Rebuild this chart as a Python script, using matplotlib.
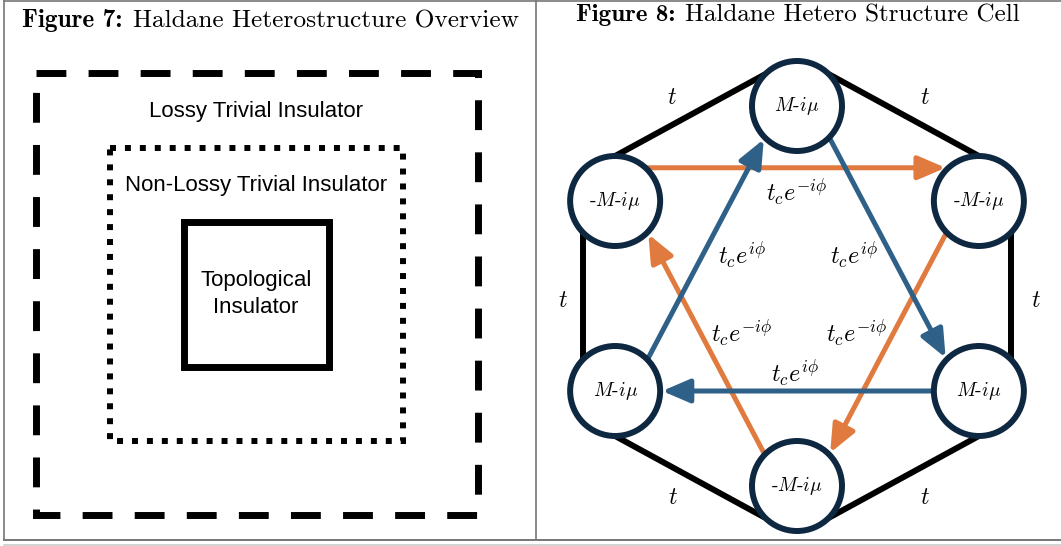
import numpy as np
import matplotlib
matplotlib.use("Agg")
import matplotlib.pyplot as plt
from matplotlib.patches import Circle, FancyArrowPatch
from matplotlib.lines import Line2D

plt.rcParams['mathtext.fontset'] = 'cm'

# ---------------- data ----------------
panel_numbers = ["Figure 7:", "Figure 8:"]
panel_titles = ["Haldane Heterostructure Overview", "Haldane Hetero Structure Cell"]
region_labels = ["Lossy Trivial Insulator", "Non-Lossy Trivial Insulator", "Topological\nInsulator"]
region_styles = ["dashed", "dotted", "solid"]

# hexagon sites, clockwise from top
site_labels = [r"$M\text{-}i\mu$", r"$\text{-}M\text{-}i\mu$", r"$M\text{-}i\mu$",
               r"$\text{-}M\text{-}i\mu$", r"$M\text{-}i\mu$", r"$\text{-}M\text{-}i\mu$"]
site_angles = [90, 30, -30, -90, -150, 150]

# nearest-neighbour bonds: (site a, port angle a, site b, port angle b)
bonds = [(5, 90, 0, 135), (0, 45, 1, 90), (1, -45, 2, 45),
         (2, -90, 3, -45), (3, -135, 4, -90), (4, 135, 5, -135)]
bond_label = "$t$"

# next-nearest-neighbour hoppings
hop_from = [5, 1, 3, 4, 0, 2]
hop_from_port = [45, -135, 135, 45, -45, 180]
hop_to = [1, 3, 5, 0, 2, 4]
hop_to_port = [135, 45, -45, -135, 135, 0]
hop_labels = [r"$t_c e^{-i\phi}$", r"$t_c e^{-i\phi}$", r"$t_c e^{-i\phi}$",
              r"$t_c e^{i\phi}$", r"$t_c e^{i\phi}$", r"$t_c e^{i\phi}$"]
hop_kind = ["orange", "orange", "orange", "blue", "blue", "blue"]

# ---------------- layout ----------------
W, H = 1061, 546
fig = plt.figure(figsize=(W / 100, H / 100), dpi=100)
ax = fig.add_axes([0, 0, 1, 1])
ax.set_xlim(0, W)
ax.set_ylim(H, 0)
ax.axis('off')

frame = '#777777'
ax.add_line(Line2D([4, 4], [1, 540], color=frame, lw=1.2))
ax.add_line(Line2D([536, 536], [1, 540], color=frame, lw=1.2))
ax.add_line(Line2D([4, W], [1, 1], color=frame, lw=1.2))
ax.add_line(Line2D([4, W], [540, 540], color=frame, lw=1.4))
ax.add_line(Line2D([4, W], [545, 545], color='#cccccc', lw=1.2))

# ----- titles (bold number + roman caption), fitted to the caption width -----
renderer = fig.canvas.get_renderer()
title_center = [270, 797]
title_y = [21, 15]
title_width = [496, 443]
gap = 10
for i in range(2):
    t1 = ax.text(0, title_y[i], panel_numbers[i], family='cmb10', fontsize=10,
                 ha='left', va='center')
    t2 = ax.text(0, title_y[i], panel_titles[i], family='cmr10', fontsize=10,
                 ha='left', va='center')
    w1 = t1.get_window_extent(renderer).width
    w2 = t2.get_window_extent(renderer).width
    s = (title_width[i] - gap) / (w1 + w2)
    t1.set_fontsize(10 * s)
    t2.set_fontsize(10 * s)
    x0 = title_center[i] - title_width[i] / 2
    t1.set_x(x0)
    t2.set_x(x0 + w1 * s + gap)

# ----- left panel: nested regions -----
rects = [(36, 73, 478, 515), (110, 148, 403, 441), (184, 222, 329, 367)]
lws = [5.0, 4.3, 5.0]
dash = {"dashed": (0, (4.3, 3.2)), "dotted": (0, (1.0, 1.5)), "solid": "solid"}
label_y = [111, 186, 294]
for (x0, y0, x1, y1), st, lw in zip(rects, region_styles, lws):
    ax.add_line(Line2D([x0, x1, x1, x0, x0], [y0, y0, y1, y1, y0], color='black', lw=lw,
                       linestyle=dash[st], dash_capstyle='butt', dash_joinstyle='miter',
                       solid_joinstyle='miter'))
for lab, y in zip(region_labels, label_y):
    ax.text(256, y, lab, ha='center', va='center', fontsize=16,
            family='Liberation Sans', linespacing=1.38)

# ----- right panel: Haldane cell -----
cx, cy = 797, 296
rx, ry = 210, 190
sites = [(cx + rx * np.cos(np.radians(a)), cy - ry * np.sin(np.radians(a))) for a in site_angles]
R = 45
navy = '#0E2841'
colors = {"orange": '#E07A3E', "blue": '#2F6087'}


def port(i, ang, r):
    x, y = sites[i]
    return x + r * np.cos(np.radians(ang)), y - r * np.sin(np.radians(ang))


for (a, pa, b, pb) in bonds:
    p, q = port(a, pa, R), port(b, pb, R)
    ax.add_line(Line2D([p[0], q[0]], [p[1], q[1]], color='black', lw=4.3,
                       solid_capstyle='butt', zorder=1))

bond_label_pos = [(672, 97), (925, 97), (1036, 300), (925, 497), (673, 497), (563, 300)]
for (x, y) in bond_label_pos:
    ax.text(x, y, bond_label, ha='center', va='center', fontsize=17)

for f, fp, t, tp, kind in zip(hop_from, hop_from_port, hop_to, hop_to_port, hop_kind):
    p, q = port(f, fp, R + 2), port(t, tp, R + 2)
    arr = FancyArrowPatch(p, q, arrowstyle='-|>,head_length=1.05,head_width=0.45',
                          mutation_scale=16, shrinkA=0, shrinkB=0, lw=3.6,
                          color=colors[kind], zorder=2)
    ax.add_patch(arr)

hop_label_pos = [(797, 192), (857, 333), (742, 333), (742, 255), (854, 255), (795, 373)]
for lab, (x, y) in zip(hop_labels, hop_label_pos):
    ax.text(x, y, lab, ha='center', va='center', fontsize=17.5)

for (x, y), lab in zip(sites, site_labels):
    ax.add_patch(Circle((x, y), R, facecolor='white', edgecolor=navy, lw=4.3, zorder=3))
    ax.text(x, y, lab, ha='center', va='center', fontsize=14, zorder=4)

fig.savefig("out.png", dpi=100)
